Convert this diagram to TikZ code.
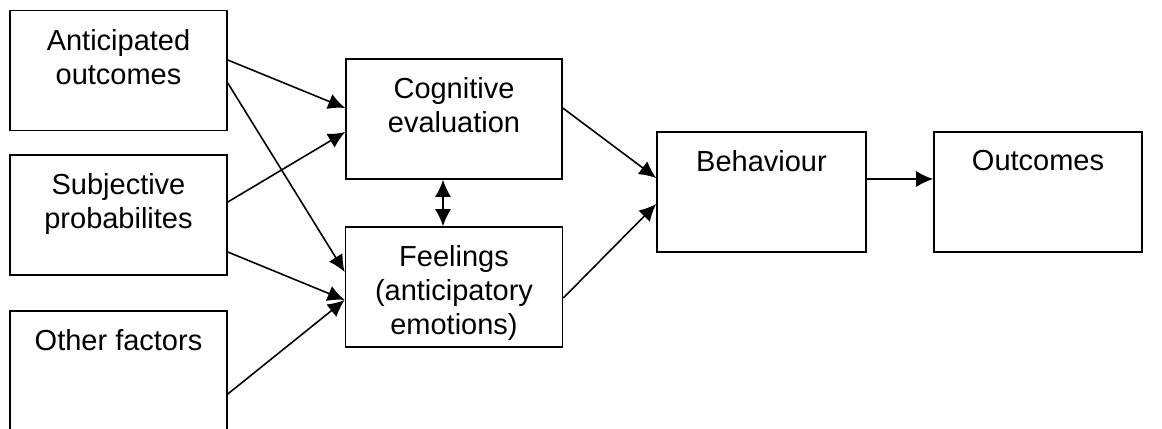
\documentclass[tikz,border=0pt]{standalone}
\usepackage{fontspec}
\setmainfont{Liberation Sans}
\usetikzlibrary{arrows.meta,positioning}

\begin{document}
\begin{tikzpicture}[>={Latex[length=0.34cm,width=0.32cm]}, line width=0.9pt,
  every node/.style={font=\fontsize{16.5}{19.4}\selectfont},
  box/.style={draw, minimum height=2.4cm, minimum width=4.34cm, inner sep=0pt},
  txt/.style={anchor=north, align=center, inner sep=0pt, yshift=-0.37cm}]
  \useasboundingbox (0,0) rectangle (23.24,8.56);

  % left column
  \node [box, label={[txt]north:{Anticipated\\outcomes}}] (ant) at (2.37,7.15) {};
  \node [box, below of=ant, node distance=2.89cm, label={[txt]north:{Subjective\\probabilites}}] (subj) {};
  \node [box, below of=subj, node distance=3.12cm, label={[txt]north:{Other factors}}] (other) {};

  % middle column
  \node [box, minimum width=4.32cm, label={[txt]north:{Cognitive\\evaluation}}] (cog) at (9.08,6.18) {};
  \node [box, below of=cog, node distance=3.36cm, label={[txt]north:{Feelings\\(anticipatory\\emotions)}}] (feel) {};

  % right
  \node [box, minimum width=4.18cm, label={[txt]north:{Behaviour}}] (beh) at (15.23,4.72) {};
  \node [box, minimum width=4.16cm, right of=beh, node distance=5.53cm, label={[txt]north:{Outcomes}}] (out) {};

  \draw [->] ([yshift=0.21cm]ant.east) -- ([yshift=0.22cm]cog.west);
  \draw [->] ([yshift=-0.25cm]ant.east) -- ([yshift=0.3cm]feel.west);
  \draw [->] ([yshift=0.26cm]subj.east) -- ([yshift=-0.26cm]cog.west);
  \draw [->] ([yshift=-0.74cm]subj.east) -- ([yshift=-0.26cm]feel.west);
  \draw [->] ([yshift=-0.46cm]other.east) -- ([yshift=-0.26cm]feel.west);
  \draw [<->] ([xshift=-0.22cm]cog.south) -- ([xshift=-0.22cm]feel.north);

  \draw [->] ([yshift=0.22cm]cog.east) -- ([yshift=0.28cm]beh.west);
  \draw [->] ([yshift=-0.22cm]feel.east) -- ([yshift=-0.24cm]beh.west);
  \draw [->] ([yshift=0.26cm]beh.east) -- ([yshift=0.26cm]out.west);
\end{tikzpicture}
\end{document}
